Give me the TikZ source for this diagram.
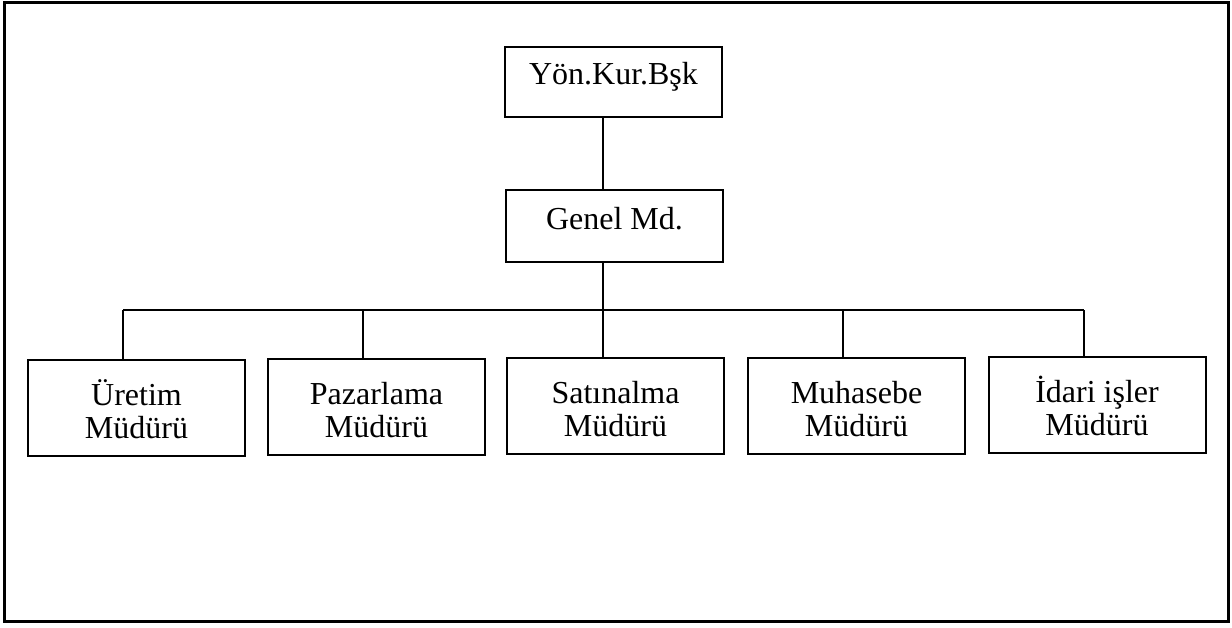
\documentclass[tikz,border=0pt]{standalone}
\usepackage{fontspec}
\setmainfont{Liberation Serif}
% fixed line heights so every label sits at the same baseline
\newcommand{\toprule}{\rule{0pt}{29pt}}
\newcommand{\onerule}[2]{\rule[-#2]{0pt}{#1}}
\begin{document}
\begin{tikzpicture}[x=1pt,y=-1pt,
  orgbox/.style={draw,line width=2pt,minimum width=217pt,inner sep=0pt,
    align=center,font=\fontsize{32}{33}\selectfont},
  conn/.style={line width=1.6pt},
  frame/.style={line width=3pt}]
\useasboundingbox (0,0) rectangle (1232,627);
\draw[frame] (4,2) rectangle (1228,621);

% top levels
\node[orgbox,minimum height=70pt] (yk) at (613.5,82) {\onerule{24pt}{18pt}Yön.Kur.Bşk};
\node[orgbox,minimum height=72pt] (gm) at (614.5,226) {\onerule{24pt}{16pt}Genel Md.};

% department heads
\node[orgbox,minimum height=96pt] (b1) at (136.5,408) {\toprule Üretim\\Müdürü};
\node[orgbox,minimum height=96pt] (b2) at (376.5,407) {\toprule Pazarlama\\Müdürü};
\node[orgbox,minimum height=96pt] (b3) at (615.5,406) {\toprule Satınalma\\Müdürü};
\node[orgbox,minimum height=96pt] (b4) at (856.5,406) {\toprule Muhasebe\\Müdürü};
\node[orgbox,minimum height=96pt] (b5) at (1097,405) {\toprule İdari işler\\Müdürü};

% connectors
\coordinate (t) at ([xshift=-10.5pt]yk.south);
\coordinate (g) at ([xshift=-11.5pt]gm.south);
\coordinate (d1) at ([xshift=-13.5pt]b1.north);
\coordinate (d2) at ([xshift=-13.5pt]b2.north);
\coordinate (d3) at ([xshift=-12.5pt]b3.north);
\coordinate (d4) at ([xshift=-13.5pt]b4.north);
\coordinate (d5) at ([xshift=-13pt]b5.north);
\coordinate (bus) at (0,310);

\draw[conn] (t) -- (t |- gm.north);
\draw[conn] (g) -- (g |- bus);
\draw[conn] (d1 |- bus) -- (d5 |- bus);
\foreach \d in {d1,d2,d3,d4,d5}
  \draw[conn] (\d) -- (\d |- bus);
\end{tikzpicture}
\end{document}
